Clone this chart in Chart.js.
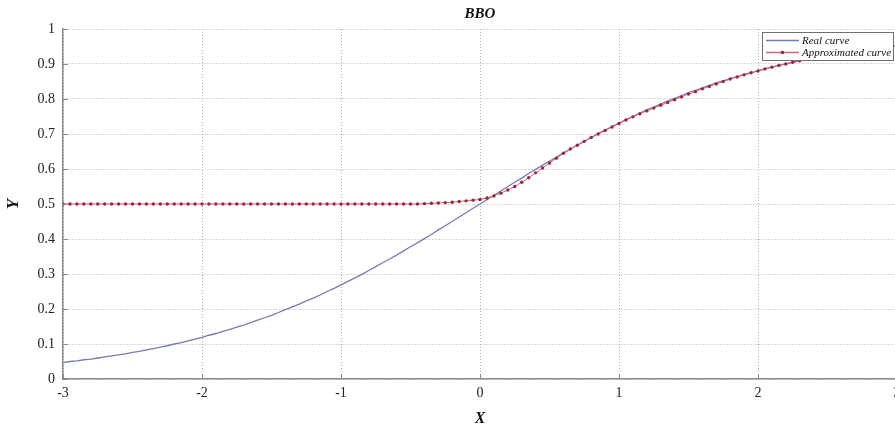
<!DOCTYPE html>
<html>
<head>
<meta charset="utf-8">
<script src="https://cdn.jsdelivr.net/npm/chart.js@4.4.1/dist/chart.umd.min.js"></script>
<style>
  html, body { margin: 0; padding: 0; background: #fff; overflow: hidden; }
  #wrap { width: 930px; height: 430px; position: relative; }
</style>
</head>
<body>
<div id="wrap"><canvas id="bboChart"></canvas></div>
<script>
// sample points along x
const xs = [
  -3.00, -2.95, -2.90, -2.85, -2.80, -2.75, -2.70, -2.65, -2.60, -2.55,
  -2.50, -2.45, -2.40, -2.35, -2.30, -2.25, -2.20, -2.15, -2.10, -2.05,
  -2.00, -1.95, -1.90, -1.85, -1.80, -1.75, -1.70, -1.65, -1.60, -1.55,
  -1.50, -1.45, -1.40, -1.35, -1.30, -1.25, -1.20, -1.15, -1.10, -1.05,
  -1.00, -0.95, -0.90, -0.85, -0.80, -0.75, -0.70, -0.65, -0.60, -0.55,
  -0.50, -0.45, -0.40, -0.35, -0.30, -0.25, -0.20, -0.15, -0.10, -0.05,
   0.00,  0.05,  0.10,  0.15,  0.20,  0.25,  0.30,  0.35,  0.40,  0.45,
   0.50,  0.55,  0.60,  0.65,  0.70,  0.75,  0.80,  0.85,  0.90,  0.95,
   1.00,  1.05,  1.10,  1.15,  1.20,  1.25,  1.30,  1.35,  1.40,  1.45,
   1.50,  1.55,  1.60,  1.65,  1.70,  1.75,  1.80,  1.85,  1.90,  1.95,
   2.00,  2.05,  2.10,  2.15,  2.20,  2.25,  2.30,  2.35,  2.40,  2.45,
   2.50,  2.55,  2.60,  2.65,  2.70,  2.75,  2.80,  2.85,  2.90,  2.95,
   3.00
];

const realCurve = [
  0.047, 0.050, 0.052, 0.055, 0.057, 0.060, 0.063, 0.066, 0.069, 0.072,
  0.076, 0.079, 0.083, 0.087, 0.091, 0.095, 0.100, 0.104, 0.109, 0.114,
  0.119, 0.125, 0.130, 0.136, 0.142, 0.148, 0.154, 0.161, 0.168, 0.175,
  0.182, 0.190, 0.198, 0.206, 0.214, 0.223, 0.231, 0.240, 0.250, 0.259,
  0.269, 0.279, 0.289, 0.299, 0.310, 0.321, 0.332, 0.343, 0.354, 0.366,
  0.378, 0.389, 0.401, 0.413, 0.426, 0.438, 0.450, 0.463, 0.475, 0.488,
  0.500, 0.512, 0.525, 0.537, 0.550, 0.562, 0.574, 0.587, 0.599, 0.611,
  0.622, 0.634, 0.646, 0.657, 0.668, 0.679, 0.690, 0.701, 0.711, 0.721,
  0.731, 0.741, 0.750, 0.760, 0.769, 0.777, 0.786, 0.794, 0.802, 0.810,
  0.818, 0.825, 0.832, 0.839, 0.846, 0.852, 0.858, 0.864, 0.870, 0.875,
  0.881, 0.886, 0.891, 0.896, 0.900, 0.905, 0.909, 0.913, 0.917, 0.921,
  0.924, 0.928, 0.931, 0.934, 0.937, 0.940, 0.943, 0.945, 0.948, 0.950,
  0.953
];

const approxCurve = [
  0.500, 0.500, 0.500, 0.500, 0.500, 0.500, 0.500, 0.500, 0.500, 0.500,
  0.500, 0.500, 0.500, 0.500, 0.500, 0.500, 0.500, 0.500, 0.500, 0.500,
  0.500, 0.500, 0.500, 0.500, 0.500, 0.500, 0.500, 0.500, 0.500, 0.500,
  0.500, 0.500, 0.500, 0.500, 0.500, 0.500, 0.500, 0.500, 0.500, 0.500,
  0.500, 0.500, 0.500, 0.500, 0.500, 0.500, 0.500, 0.500, 0.500, 0.500,
  0.500, 0.500, 0.501, 0.502, 0.503, 0.504, 0.505, 0.507, 0.509, 0.511,
  0.513, 0.517, 0.523, 0.531, 0.540, 0.550, 0.562, 0.575, 0.589, 0.603,
  0.617, 0.631, 0.645, 0.657, 0.668, 0.679, 0.690, 0.700, 0.710, 0.720,
  0.730, 0.740, 0.749, 0.758, 0.766, 0.774, 0.782, 0.790, 0.798, 0.806,
  0.814, 0.821, 0.829, 0.836, 0.843, 0.850, 0.857, 0.863, 0.869, 0.875,
  0.880, 0.886, 0.891, 0.896, 0.900, 0.905, 0.909, 0.913, 0.917, 0.921,
  0.924, 0.928, 0.931, 0.934, 0.937, 0.940, 0.943, 0.945, 0.948, 0.950,
  0.953
];

const xTicks = [-3, -2, -1, 0, 1, 2, 3];
const yTicks = [0, 0.1, 0.2, 0.3, 0.4, 0.5, 0.6, 0.7, 0.8, 0.9, 1];

const serif = '"Liberation Serif", "DejaVu Serif", serif';
const axisGray = '#8a8a8a';

// matlab style ticks pointing into the plot
const inwardTicks = {
  id: 'inwardTicks',
  afterDraw(chart) {
    const { ctx, chartArea, scales } = chart;
    ctx.save();
    ctx.strokeStyle = axisGray;
    ctx.lineWidth = 1;
    xTicks.forEach(v => {
      const px = Math.round(scales.x.getPixelForValue(v)) + 0.5;
      ctx.beginPath();
      ctx.moveTo(px, chartArea.bottom);
      ctx.lineTo(px, chartArea.bottom - 5);
      ctx.stroke();
    });
    yTicks.forEach(v => {
      const py = Math.round(scales.y.getPixelForValue(v)) + 0.5;
      ctx.beginPath();
      ctx.moveTo(chartArea.left, py);
      ctx.lineTo(chartArea.left + 5, py);
      ctx.stroke();
    });
    ctx.restore();
  }
};

// boxed legend in the top right corner of the plot
const boxLegend = {
  id: 'boxLegend',
  afterDraw(chart) {
    const { ctx, chartArea } = chart;
    const sets = chart.data.datasets;
    const w = 131, h = 28;
    const x0 = chartArea.right - 4 - w;
    const y0 = chartArea.top + 3;
    ctx.save();
    ctx.fillStyle = '#fff';
    ctx.fillRect(x0, y0, w, h);
    ctx.strokeStyle = '#707070';
    ctx.lineWidth = 1;
    ctx.strokeRect(x0 + 0.5, y0 + 0.5, w, h);
    ctx.font = 'italic 11px ' + serif;
    ctx.textBaseline = 'middle';
    sets.forEach((ds, i) => {
      const ly = y0 + 8.5 + i * 12;
      ctx.strokeStyle = ds.borderColor;
      ctx.lineWidth = 1.3;
      ctx.beginPath();
      ctx.moveTo(x0 + 4, ly);
      ctx.lineTo(x0 + 37, ly);
      ctx.stroke();
      if (ds.pointRadius > 0) {
        ctx.fillStyle = ds.pointBackgroundColor;
        ctx.beginPath();
        ctx.arc(x0 + 20.5, ly, 1.8, 0, Math.PI * 2);
        ctx.fill();
      }
      ctx.fillStyle = '#111';
      ctx.fillText(ds.label, x0 + 40, ly + 0.5);
    });
    ctx.restore();
  }
};

const ctx = document.getElementById('bboChart');

const bboChart = new Chart(ctx, {
  type: 'line',
  data: {
    datasets: [
      {
        label: 'Real curve',
        data: xs.map((x, i) => ({ x: x, y: realCurve[i] })),
        borderColor: 'rgb(118, 124, 176)',
        borderWidth: 1.3,
        pointRadius: 0,
        tension: 0,
        order: 1
      },
      {
        label: 'Approximated curve',
        data: xs.map((x, i) => ({ x: x, y: approxCurve[i] })),
        borderColor: 'rgb(196, 110, 120)',
        borderWidth: 1,
        pointRadius: 1.7,
        pointBorderWidth: 0,
        pointBackgroundColor: 'rgb(165, 35, 55)',
        tension: 0,
        order: 0
      }
    ]
  },
  options: {
    responsive: true,
    maintainAspectRatio: false,
    animation: false,
    events: [],
    layout: { padding: { left: 0, right: 33, top: 0, bottom: 0 } },
    plugins: {
      legend: { display: false },
      tooltip: { enabled: false },
      title: {
        display: true,
        fullSize: false,
        text: 'BBO',
        color: '#111',
        font: { family: serif, size: 15, style: 'italic', weight: 'bold', lineHeight: 1.2 },
        padding: { top: 5, bottom: 6 }
      }
    },
    scales: {
      x: {
        type: 'linear',
        min: -3,
        max: 3,
        afterBuildTicks: scale => { scale.ticks = xTicks.map(v => ({ value: v })); },
        afterFit: scale => { scale.height = 51; },
        grid: { color: '#b0b0b0', lineWidth: 1, drawTicks: false },
        border: { display: true, color: axisGray, width: 1.5, dash: [1, 2] },
        ticks: { color: '#222', padding: 6, font: { family: serif, size: 14 }, maxRotation: 0 },
        title: {
          display: true,
          text: 'X',
          color: '#111',
          font: { family: serif, size: 16, style: 'italic', weight: 'bold', lineHeight: 1.2 },
          padding: { top: 0, bottom: 2 }
        }
      },
      y: {
        min: 0,
        max: 1,
        afterBuildTicks: scale => { scale.ticks = yTicks.map(v => ({ value: v })); },
        afterFit: scale => { scale.width = 63; },
        grid: { color: '#b0b0b0', lineWidth: 1, drawTicks: false },
        border: { display: true, color: axisGray, width: 1.5, dash: [1, 2] },
        ticks: {
          color: '#222',
          padding: 8,
          font: { family: serif, size: 14 },
          callback: v => String(v)
        },
        title: {
          display: true,
          text: 'Y',
          color: '#111',
          font: { family: serif, size: 17, style: 'italic', weight: 'bold', lineHeight: 1.2 },
          padding: { top: 3, bottom: 3 }
        }
      }
    }
  },
  plugins: [inwardTicks, boxLegend]
});
</script>
</body>
</html>
